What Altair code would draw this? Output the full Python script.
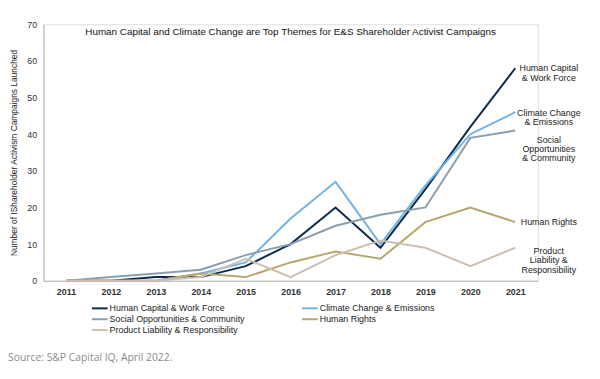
import altair as alt
import pandas as pd

years = ["2011", "2012", "2013", "2014", "2015", "2016", "2017", "2018", "2019", "2020", "2021"]
series_names = [
    "Human Capital & Work Force",
    "Climate Change & Emissions",
    "Social Opportunities & Community",
    "Human Rights",
    "Product Liability & Responsibility",
]
human_capital = [0, 0, 1, 1, 4, 10, 20, 9, 25, 42, 58]
climate_change = [0, 0, 0, 2, 5, 17, 27, 10, 26, 40, 46]
social_opps = [0, 1, 2, 3, 7, 10, 15, 18, 20, 39, 41]
human_rights = [0, 0, 0, 2, 1, 5, 8, 6, 16, 20, 16]
product_liab = [0, 0, 0, 1, 6, 1, 7, 11, 9, 4, 9]
end_labels = [
    "Human Capital\n& Work Force",
    "Climate Change\n& Emissions",
    "Social\nOpportunities\n& Community",
    "Human Rights",
    "Product\nLiability &\nResponsibility",
]
end_label_y = [58.0, 45.9, 38.5, 16.0, 8.1]
colors = ["#0c2b4e", "#6fb3e6", "#8b9eae", "#b8a76c", "#cdc0b3"]
title_text = "Human Capital and Climate Change are Top Themes for E&S Shareholder Activist Campaigns"
source_text = "Source: S&P Capital IQ, April 2022."

all_values = [human_capital, climate_change, social_opps, human_rights, product_liab]
rows = []
for name, vals in zip(series_names, all_values):
    for y, v in zip(years, vals):
        rows.append({"year": y, "series": name, "value": v})
df = pd.DataFrame(rows)

lab_df = pd.DataFrame({"year": ["2021"] * 5, "label": end_labels, "value": end_label_y})

FONT = "Liberation Sans"
W, H = 501, 260

x_axis = alt.Axis(title=None, labelAngle=0, ticks=False, grid=False,
                  domainColor="#b3b3b3", labelColor="#333333",
                  labelFontSize=9, labelFontWeight="bold", labelPadding=7,
                  labelFont=FONT)
y_axis = alt.Axis(title="Number of IShareholder Activism Campaigns Launched",
                  values=[0, 10, 20, 30, 40, 50, 60, 70], ticks=False, grid=False,
                  labelOverlap=False,
                  domainColor="#b3b3b3", labelColor="#333333", labelFontSize=9,
                  labelPadding=7, labelFont=FONT, titleFont=FONT,
                  titleFontSize=8.5, titleFontWeight="normal", titleColor="#222222",
                  titlePadding=8)
x_scale = alt.Scale(type="point", padding=0.5)
y_scale = alt.Scale(domain=[0, 70], nice=False)

lines = alt.Chart(df).mark_line(strokeWidth=2).encode(
    x=alt.X("year:O", scale=x_scale, axis=x_axis),
    y=alt.Y("value:Q", scale=y_scale, axis=y_axis),
    color=alt.Color("series:N", scale=alt.Scale(domain=series_names, range=colors),
                    sort=series_names,
                    legend=alt.Legend(title=None, orient="none", legendX=51, legendY=282,
                                      direction="horizontal",
                                      columns=2, columnPadding=53, rowPadding=-4,
                                      symbolType="M-1.6,0H1.6", symbolSize=100,
                                      symbolStrokeWidth=2, labelFontSize=9,
                                      labelFont=FONT, labelColor="#222222",
                                      labelOffset=4, symbolOffset=0)),
    order=alt.Order("series:N"),
)

labels = alt.Chart(lab_df).mark_text(
    align="center", baseline="middle", dx=34, fontSize=9, font=FONT,
    color="#222222", lineBreak="\n", lineHeight=9.5
).encode(
    x=alt.X("year:O", scale=x_scale, axis=x_axis),
    y=alt.Y("value:Q", scale=y_scale, axis=y_axis),
    text="label:N",
)

title = alt.Chart(pd.DataFrame({"t": [title_text]})).mark_text(
    align="center", baseline="middle", fontSize=10, font=FONT, color="#111111"
).encode(x=alt.value(W / 2), y=alt.value(7.5), text="t:N")

source = alt.Chart(pd.DataFrame({"t": [source_text]})).mark_text(
    align="left", baseline="middle", fontSize=10.5, font="Open Sans", color="#8a8a8a"
).encode(x=alt.value(-36), y=alt.value(338), text="t:N")

chart = alt.layer(lines, labels, title, source).properties(
    width=W, height=H,
    autosize=alt.AutoSizeParams(type="none"),
    padding={"left": 36, "top": 14, "right": 55, "bottom": 89},
).configure_view(stroke=None).configure(background="white")

chart.save("out.html", embed_options={"renderer": "svg", "actions": False})
